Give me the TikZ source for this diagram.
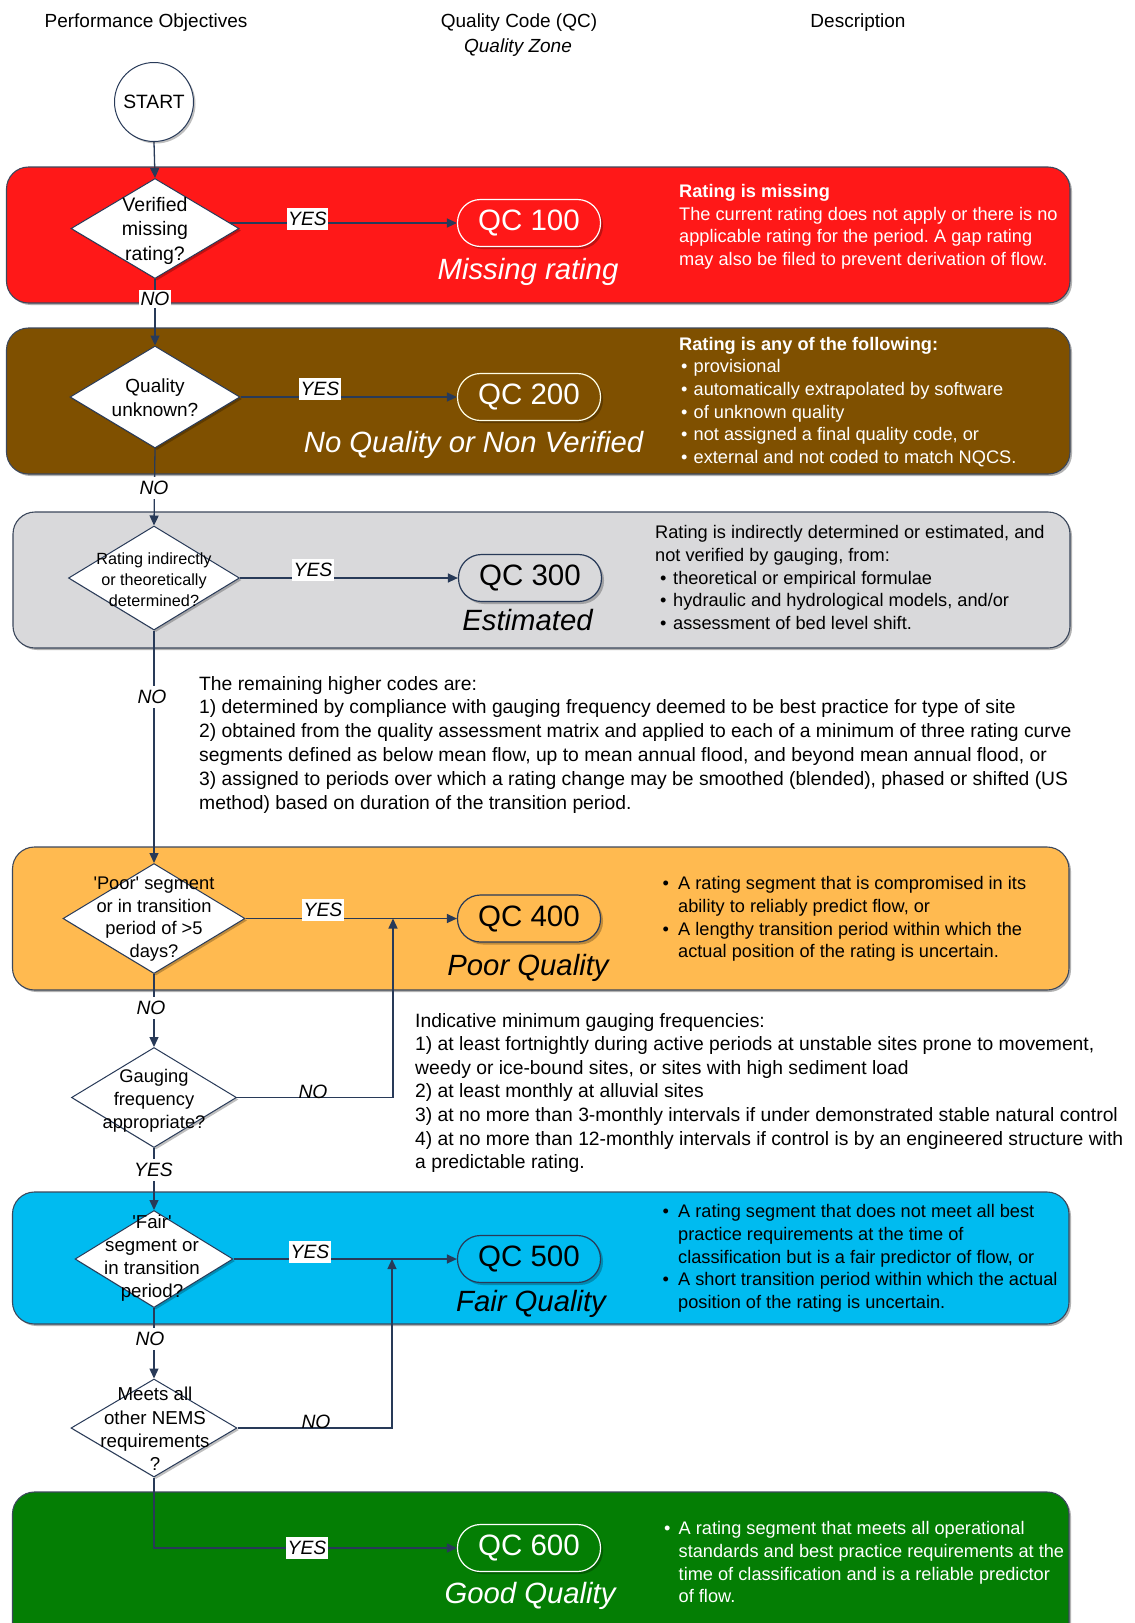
\documentclass[tikz,border=0pt]{standalone}
\usepackage{fontspec}
\setmainfont{Liberation Sans}[Ligatures=TeXOff]
\usetikzlibrary{shapes.geometric,arrows.meta,shadows}
\pgfdeclarelayer{back}
\pgfdeclarelayer{mid}
\pgfsetlayers{back,mid,main}
\frenchspacing
\definecolor{cRed}{RGB}{255,24,24}
\definecolor{cBrown}{RGB}{127,80,0}
\definecolor{cGray}{RGB}{217,217,219}
\definecolor{cOrange}{RGB}{255,186,80}
\definecolor{cCyan}{RGB}{0,187,240}
\definecolor{cGreen}{RGB}{4,126,4}
\definecolor{bandline}{RGB}{60,72,92}
\definecolor{flowline}{RGB}{40,58,88}
\newcommand{\bulA}{\makebox[14.5pt][l]{\hspace{2pt}•}}
\newcommand{\bulB}{\makebox[18pt][l]{\hspace{5pt}•}}
\newcommand{\bulC}{\makebox[16pt][l]{\hspace{0.5pt}•}}
\newcommand{\indC}{\makebox[16pt][l]{}}
\newcommand{\bulD}{\makebox[14.5pt][l]{•}}
\newcommand{\indD}{\makebox[14.5pt][l]{}}
\tikzset{
  band/.style={rectangle, rounded corners=22pt, draw=bandline, line width=1.1pt,
    drop shadow={shadow xshift=2pt, shadow yshift=-2pt, opacity=0.3, fill=black}},
  dec/.style={diamond, draw=flowline, fill=white, line width=1pt, inner sep=0pt,
    drop shadow={shadow xshift=2pt, shadow yshift=-2pt, opacity=0.25, fill=black}},
  dtext/.style={align=center, inner sep=0pt},
  qcbox/.style={rectangle, rounded corners=23pt, minimum width=143pt, minimum height=47pt,
    line width=1.2pt, inner sep=0pt, font=\fontsize{29.5}{30}\selectfont,
    drop shadow={shadow xshift=2.5pt, shadow yshift=-2.5pt, opacity=0.25, fill=black}},
  zone/.style={anchor=base, inner sep=0pt, font=\fontsize{29.3}{30}\selectfont\itshape},
  flow/.style={draw=flowline, line width=1.3pt, -{Triangle[length=10pt,width=9pt]}},
  lab/.style={font=\fontsize{19.3}{20}\selectfont\itshape, fill=white, inner xsep=1.5pt, inner ysep=4pt},
  onlab/.style={font=\fontsize{19.3}{20}\selectfont\itshape, anchor=base, inner sep=0pt},
  desc/.style={anchor=north west, align=left, inner sep=0pt, font=\fontsize{18.2}{22.7}\selectfont},
  body/.style={anchor=north west, align=left, inner sep=0pt, font=\fontsize{19.3}{23.8}\selectfont},
  head/.style={inner sep=0pt, font=\fontsize{19}{20}\selectfont},
}
\begin{document}
\begin{tikzpicture}[x=1pt,y=-1pt]
\useasboundingbox (0,0) rectangle (1135,1623);
\clip (0,0) rectangle (1135,1623);

% headers
\node[head] (h1) at (146,23) {Performance Objectives};
\node[head] (h2) at (519,23) {Quality Code (QC)};
\node[head, font=\fontsize{19}{20}\selectfont\itshape] (h3) at (518,47.5) {Quality Zone};
\node[head] (h4) at (858,23) {Description};

% bands
\begin{pgfonlayer}{back}
\fill[white] (0,0) rectangle (1135,1623);
\node[band, fill=cRed, minimum width=1063.5pt, minimum height=136pt] (b1) at (538.25,235) {};
\node[band, fill=cBrown, minimum width=1063.5pt, minimum height=146pt] (b2) at (538.25,401) {};
\node[band, fill=cGray, minimum width=1057pt, minimum height=136pt] (b3) at (541.5,580) {};
\node[band, fill=cOrange, minimum width=1056.5pt, minimum height=143pt] (b4) at (540.75,918.5) {};
\node[band, fill=cCyan, minimum width=1056.5pt, minimum height=132pt] (b5) at (540.75,1258) {};
\node[band, fill=cGreen, minimum width=1056.5pt, minimum height=160pt] (b6) at (540.75,1572) {};
\end{pgfonlayer}

% start
\node[circle, draw=flowline, fill=white, line width=1pt, minimum size=79pt, inner sep=0pt,
  font=\fontsize{19.3}{20}\selectfont,
  drop shadow={shadow xshift=2pt, shadow yshift=-2pt, opacity=0.25, fill=black}] (start) at (154,102) {START};

% decisions
\node[dec, minimum width=168pt, minimum height=100pt] (d1) at (155,228.5) {};
\node[dec, minimum width=170pt, minimum height=102pt] (d2) at (155,397) {};
\node[dec, minimum width=171pt, minimum height=104pt] (d3) at (154,578) {};
\node[dec, minimum width=182pt, minimum height=110pt] (d4) at (154,918.5) {};
\node[dec, minimum width=165pt, minimum height=100pt] (d5) at (154,1097.5) {};
\node[dec, minimum width=158pt, minimum height=97pt] (d6) at (154,1259) {};
\node[dec, minimum width=166pt, minimum height=98pt] (d7) at (154,1428) {};

\node[dtext, font=\fontsize{19.5}{24.5}\selectfont] (t1) at (155,230.5) {Verified\\missing\\rating?};
\node[dtext, font=\fontsize{19}{24}\selectfont] (t2) at (155,398) {Quality\\unknown?};
\node[dtext, font=\fontsize{16.2}{21}\selectfont] (t3) at (154,580) {Rating indirectly\\or theoretically\\determined?};
\node[dtext, font=\fontsize{18.3}{22.6}\selectfont] (t4) at (154,919) {'Poor' segment\\or in transition\\period of >5\\days?};
\node[dtext, font=\fontsize{18.3}{23}\selectfont] (t5) at (154,1100.5) {Gauging\\frequency\\appropriate?};
\node[dtext, font=\fontsize{18.7}{23}\selectfont] (t6) at (152,1258.5) {'Fair'\\segment or\\in transition\\period?};
\node[dtext, font=\fontsize{18.7}{23.3}\selectfont] (t7) at (155,1429) {Meets all\\other NEMS\\requirements\\?};

% QC boxes
\node[qcbox, fill=cRed, draw=white, text=white] (q1) at (529,223) {QC 100};
\node[qcbox, fill=cBrown, draw=white!90!yellow, text=white] (q2) at (529,397) {QC 200};
\node[qcbox, fill=cGray, draw=flowline, text=black] (q3) at (530,578) {QC 300};
\node[qcbox, fill=cOrange, draw=flowline, text=black] (q4) at (529,918.5) {QC 400};
\node[qcbox, fill=cCyan, draw=flowline, text=black] (q5) at (529,1259) {QC 500};
\node[qcbox, fill=cGreen, draw=white, text=white] (q6) at (529,1548) {QC 600};

\node[zone, text=white] (z1) at (528,279) {Missing rating};
\node[zone, text=white] (z2) at (473.5,452) {No Quality or Non Verified};
\node[zone, text=black] (z3) at (527.5,630) {Estimated};
\node[zone, text=black] (z4) at (528,975) {Poor Quality};
\node[zone, text=black] (z5) at (531,1311.5) {Fair Quality};
\node[zone, text=white] (z6) at (530,1603) {Good Quality};

% connectors
\coordinate (m1) at (393,1097.5);
\coordinate (m2) at (392,1428);
\begin{pgfonlayer}{mid}
\draw[flow] (start.south) -- (d1.north);
\draw[flow] (d1.south) -- (d2.north);
\draw[flow] (d2.south) -- (d3.north);
\draw[flow] (d3.south) -- (d4.north);
\draw[flow] (d4.south) -- (d5.north);
\draw[flow] (d5.south) -- (d6.north);
\draw[flow] (d6.south) -- (d7.north);
\draw[flow] (d1.center |- q1.west) -- (q1.west);
\draw[flow] (d2.east) -- (q2.west);
\draw[flow] (d3.east) -- (q3.west);
\draw[flow] (d4.east) -- (q4.west);
\draw[flow] (d6.east) -- (q5.west);
\draw[flow] (d5.east) -- (m1) -- (m1 |- d4.east);
\draw[flow] (d7.east) -- (m2) -- (m2 |- d6.east);
\draw[flow] (d7.south) |- (q6.west);
\end{pgfonlayer}

% labels
\node[lab] (y1) at (307.5,219) {YES};
\node[lab] (y2) at (320,389) {YES};
\node[lab] (y3) at (313,570) {YES};
\node[lab] (y4) at (323,910) {YES};
\node[lab] (y6) at (310,1252) {YES};
\node[lab] (y7) at (307,1548) {YES};
\node[lab, inner ysep=2.5pt] (n1) at (155,299) {NO};
\node[lab] (n2) at (154,488) {NO};
\node[lab] (n3) at (152,697) {NO};
\node[lab] (n4) at (151,1008) {NO};
\node[lab] (y5) at (153.5,1170) {YES};
\node[lab] (n6) at (150,1339) {NO};
\node[onlab] (n5) at (313,1098.5) {NO};
\node[onlab] (n7) at (316,1428.5) {NO};

% descriptions
\node[desc, text=white] (e1) at (679,184) {\textbf{Rating is missing}\\The current rating does not apply or there is no\\applicable rating for the period. A gap rating\\may also be filed to prevent derivation of flow.};
\node[desc, text=white] (e2) at (679,336.8) {\textbf{Rating is any of the following:}\\\bulA provisional\\\bulA automatically extrapolated by software\\\bulA of unknown quality\\\bulA not assigned a final quality code, or\\\bulA external and not coded to match NQCS.};
\node[desc, text=black] (e3) at (655,525.3) {Rating is indirectly determined or estimated, and\\not verified by gauging, from:\\\bulB theoretical or empirical formulae\\\bulB hydraulic and hydrological models, and/or\\\bulB assessment of bed level shift.};
\node[desc, text=black] (e4) at (662,876.3) {\bulC A rating segment that is compromised in its\\\indC ability to reliably predict flow, or\\\bulC A lengthy transition period within which the\\\indC actual position of the rating is uncertain.};
\node[desc, text=black] (e5) at (662,1204.3) {\bulC A rating segment that does not meet all best\\\indC practice requirements at the time of\\\indC classification but is a fair predictor of flow, or\\\bulC A short transition period within which the actual\\\indC position of the rating is uncertain.};
\node[desc, text=white] (e6) at (664,1521.3) {\bulD A rating segment that meets all operational\\\indD standards and best practice requirements at the\\\indD time of classification and is a reliable predictor\\\indD of flow.};

% body texts
\node[body] (r1) at (199,675.9) {The remaining higher codes are:\\1) determined by compliance with gauging frequency deemed to be best practice for type of site\\2) obtained from the quality assessment matrix and applied to each of a minimum of three rating curve\\segments defined as below mean flow, up to mean annual flood, and beyond mean annual flood, or\\3) assigned to periods over which a rating change may be smoothed (blended), phased or shifted (US\\method) based on duration of the transition period.};
\node[body, font=\fontsize{19.3}{23.6}\selectfont] (r2) at (415,1012.9) {Indicative minimum gauging frequencies:\\1) at least fortnightly during active periods at unstable sites prone to movement,\\weedy or ice-bound sites, or sites with high sediment load\\2) at least monthly at alluvial sites\\3) at no more than 3-monthly intervals if under demonstrated stable natural control\\4) at no more than 12-monthly intervals if control is by an engineered structure with\\a predictable rating.};
\end{tikzpicture}
\end{document}
